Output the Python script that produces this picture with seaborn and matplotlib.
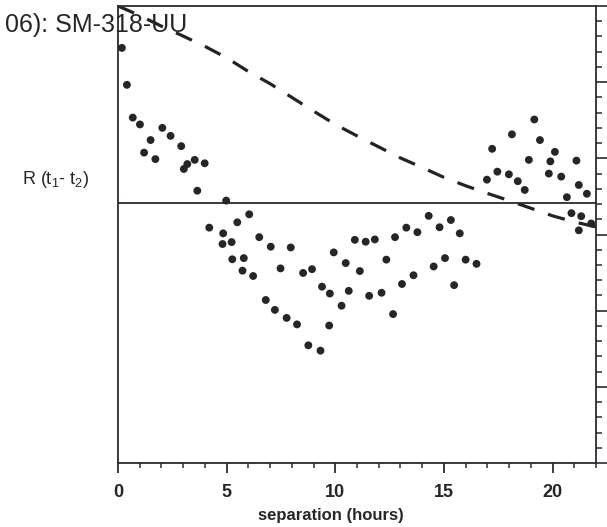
import matplotlib
matplotlib.use("Agg")
import matplotlib.pyplot as plt
import seaborn as sns
import pandas as pd
from matplotlib.ticker import MultipleLocator

# separation (hours) and correlation of each measured pair
hours = [0.18, 0.41, 0.68, 1.01, 1.50, 1.20, 1.72, 2.04, 2.42, 2.91,
         3.03, 3.19, 3.53, 3.99, 3.65, 4.98, 4.20, 4.84, 5.49, 6.04,
         6.50, 4.81, 5.23, 7.03, 7.95, 5.26, 5.79, 5.73, 6.22, 7.48,
         8.52, 8.93, 9.93, 10.90, 10.48, 11.13, 9.39, 9.75, 10.62, 10.29,
         6.80, 7.22, 7.76, 8.24, 9.72, 8.76, 9.32, 11.40, 11.82, 12.75,
         13.27, 13.78, 14.30, 14.80, 15.32, 15.73, 12.35, 11.56, 12.13, 13.07,
         13.60, 12.66, 14.53, 15.05, 16.00, 16.50, 15.47, 17.22, 18.13, 19.16,
         19.42, 20.11, 19.90, 18.91, 21.10, 17.46, 16.98, 17.99, 18.40, 18.72,
         19.83, 20.40, 21.21, 21.58, 20.66, 20.87, 21.32, 21.21, 21.78]
corr = [0.490, 0.393, 0.307, 0.289, 0.248, 0.215, 0.198, 0.280, 0.259, 0.232,
        0.172, 0.185, 0.196, 0.187, 0.115, 0.089, 0.018, 0.003, 0.032, 0.053,
        -0.007, -0.025, -0.020, -0.032, -0.034, -0.065, -0.062, -0.095, -0.109, -0.089,
        -0.101, -0.091, -0.047, -0.014, -0.075, -0.096, -0.137, -0.155, -0.148, -0.187,
        -0.172, -0.198, -0.219, -0.236, -0.239, -0.291, -0.305, -0.019, -0.013, -0.007,
        0.018, 0.006, 0.049, 0.019, 0.038, 0.003, -0.066, -0.161, -0.153, -0.130,
        -0.107, -0.209, -0.084, -0.062, -0.066, -0.077, -0.133, 0.225, 0.263, 0.302,
        0.248, 0.217, 0.192, 0.196, 0.194, 0.165, 0.144, 0.158, 0.140, 0.117,
        0.160, 0.152, 0.130, 0.107, 0.098, 0.056, 0.048, 0.011, 0.029]

# dashed model curve
curve_hours = list(range(23))
curve_corr = [0.600, 0.575, 0.547, 0.521, 0.494, 0.464, 0.428, 0.396, 0.360, 0.324,
              0.289, 0.259, 0.230, 0.201, 0.176, 0.150, 0.128, 0.108, 0.089, 0.069,
              0.049, 0.033, 0.020]

baseline = 0.084
x_ticks = [0, 5, 10, 15, 20]

sns.set_style("ticks")
plt.rcParams["font.family"] = ["Liberation Sans", "DejaVu Sans"]
plt.rcParams["mathtext.fontset"] = "custom"
plt.rcParams["mathtext.rm"] = "Liberation Sans"
plt.rcParams["mathtext.it"] = "Liberation Sans:italic"

fig = plt.figure(figsize=(6.07, 5.27), dpi=100)
ax = fig.add_axes([118 / 607, 1 - 463 / 527, 478 / 607, 457 / 527])

df = pd.DataFrame({"hours": hours, "corr": corr})
curve = pd.DataFrame({"hours": curve_hours, "corr": curve_corr})

sns.lineplot(data=curve, x="hours", y="corr", ax=ax, color="#232323",
             lw=2.3, linestyle=(0, (5.5, 4.5)))
ax.axhline(baseline, color="#2a2a38", lw=1.3, zorder=2)
sns.scatterplot(data=df, x="hours", y="corr", ax=ax, s=32,
                color="#262626", edgecolor="none", zorder=3)

ax.set_xlim(0, 22)
ax.set_ylim(-0.6, 0.6)
ax.set_xticks(x_ticks, [str(t) for t in x_ticks], fontsize=13, fontweight="bold")
ax.xaxis.set_minor_locator(MultipleLocator(1))
ax.yaxis.set_major_locator(MultipleLocator(0.2))
ax.yaxis.set_minor_locator(MultipleLocator(0.04))
ax.yaxis.tick_right()
ax.tick_params(axis="y", which="both", direction="out", labelright=False,
               left=False, right=True, color="#2a2a33")
ax.tick_params(axis="y", which="major", length=8, width=1.2)
ax.tick_params(axis="y", which="minor", length=4, width=1.1)
ax.tick_params(axis="x", which="major", length=7, width=1.3, pad=8, color="#2a2a33")
ax.tick_params(axis="x", which="minor", length=3.5, width=1.1, color="#2a2a33")

for side in ["left", "right", "top", "bottom"]:
    ax.spines[side].set_linewidth(1.3)
    ax.spines[side].set_color("#2a2a33")

ax.set_ylabel("")
ax.set_xlabel("separation (hours)", fontsize=12, fontweight="bold")
ax.xaxis.set_label_coords(0.446, -0.098)

fig.text(89 / 607, 1 - 184 / 527, r"R (t$_1$- t$_2$)", fontsize=13,
         ha="right", va="baseline")
fig.text(187 / 607, 1 - 32 / 527, "06): SM-318-UU", fontsize=18,
         ha="right", va="baseline")

fig.savefig("out.png", dpi=100)
